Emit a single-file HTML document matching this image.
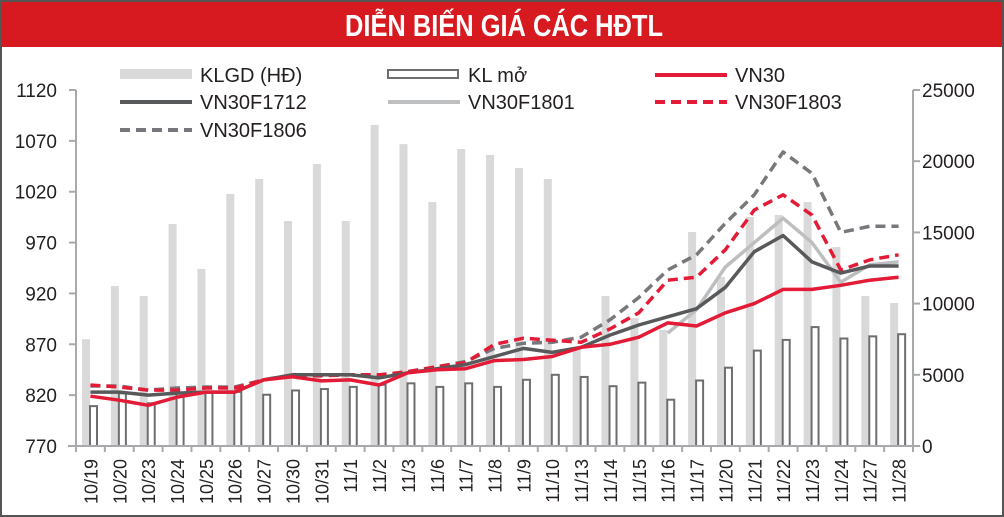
<!DOCTYPE html>
<html><head><meta charset="utf-8"><style>
body{margin:0;background:#fff;}
#wrap{position:relative;width:1004px;height:517px;overflow:hidden;background:#fff;font-family:"Liberation Sans",sans-serif;}
</style></head><body>
<div id="wrap">
<svg id="svg" width="1004" height="517" viewBox="0 0 1004 517">
<rect x="0" y="0" width="1004" height="47" fill="#d71920"/>
<text x="345" y="36" textLength="318" lengthAdjust="spacingAndGlyphs" fill="#fff" font-family="'Liberation Sans Narrow','Liberation Sans',sans-serif" font-weight="bold" font-size="31">DIỄN BIẾN GIÁ CÁC HĐTL</text>
<rect x="1" y="1" width="1002" height="515" fill="none" stroke="#555" stroke-width="2"/>
<g id="bars"></g><g id="lines"></g><g id="axes"></g><g id="legend"></g>
</svg>
</div>
<script>
const categories=["10/19","10/20","10/23","10/24","10/25","10/26","10/27","10/30","10/31","11/1","11/2","11/3","11/6","11/7","11/8","11/9","11/10","11/13","11/14","11/15","11/16","11/17","11/20","11/21","11/22","11/23","11/24","11/27","11/28"];
const klgd=[7500,11240,10530,15590,12430,17700,18750,15800,19800,15800,22540,21200,17130,20860,20440,19520,18750,6900,10530,8990,8150,15030,11870,16080,16220,17130,13970,10530,10040];
const klmo=[2800,3700,3000,3700,3800,3800,3600,3900,4000,4150,4300,4400,4150,4400,4150,4650,5000,4850,4200,4450,3250,4600,5500,6700,7450,8350,7550,7700,7850];
const vn30=[819,815,810,818,823,823,835,838,834,835,830,842,845,846,854,855,858,867,870,877,891,888,901,910,924,924,928,933,936];
const f1712=[823,823,820,822,823,823,835,840,840,840,837,842,846,850,858,866,862,867,879,889,897,905,926,961,977,951,940,947,947];
const f1801=[null,null,null,null,null,null,null,null,null,null,null,null,null,null,null,null,null,null,null,null,881,904,946,970,994,970,931,948,951];
const f1803=[830,828,825,825,827,827,835,839,839,840,840,843,848,852,870,876,874,872,885,901,933,936,963,1002,1017,997,943,953,958];
const f1806=[829,829,825,827,828,828,835,840,840,840,838,843,848,853,866,871,872,877,894,916,943,958,989,1017,1059,1038,980,986,986];
const leftTicks=[770,820,870,920,970,1020,1070,1120];
const rightTicks=[0,5000,10000,15000,20000,25000];

const NS="http://www.w3.org/2000/svg";
const X0=76,X1=913,Y0=446,Y1=90;
const cw=(X1-X0)/categories.length;
const yL=v=>Y0-(v-770)/(1120-770)*(Y0-Y1);
const yR=v=>Y0-v/25000*(Y0-Y1);
const xC=i=>X0+cw*i+cw/2;
function mk(tag,attrs,parent){const e=document.createElementNS(NS,tag);for(const k in attrs)e.setAttribute(k,attrs[k]);parent.appendChild(e);return e;}
const bars=document.getElementById('bars'),lines=document.getElementById('lines'),axes=document.getElementById('axes'),legend=document.getElementById('legend');

categories.forEach((c,i)=>{
  const b=mk('rect',{x:X0+cw*i+6,y:yR(klgd[i]),width:8,height:Y0-yR(klgd[i]),fill:'#d9d9d9'},bars);
  
  
});
categories.forEach((c,i)=>{
  const b=mk('rect',{x:X0+cw*i+14,y:yR(klmo[i]),width:7,height:Y0-yR(klmo[i]),fill:'#fff',stroke:'#6d6e70','stroke-width':2},bars);
  
  
});
function line(arr,color,dash,name){
  let d='';arr.forEach((v,i)=>{if(v==null)return;d+=(d?'L':'M')+xC(i).toFixed(1)+','+yL(v).toFixed(1);});
  const p=mk('path',{d:d,fill:'none',stroke:color,'stroke-width':3.5,'stroke-dasharray':dash||'none','stroke-linejoin':'round'},lines);
  
  
}
line(f1806,'#77787b','10 6','vn30f1806-line');
line(f1803,'#e31b37','10 6','vn30f1803-line');
line(f1801,'#bcbec0',null,'vn30f1801-line');
line(f1712,'#58595b',null,'vn30f1712-line');
line(vn30,'#e31b37',null,'vn30-line');

const axL=mk('line',{x1:X0,y1:Y1,x2:X0,y2:Y0,stroke:'#a7a9ac','stroke-width':2},axes);


const axR=mk('line',{x1:X1,y1:Y1,x2:X1,y2:Y0,stroke:'#a7a9ac','stroke-width':2},axes);


const axB=mk('line',{x1:X0-8,y1:Y0,x2:X1,y2:Y0,stroke:'#a7a9ac','stroke-width':2},axes);


leftTicks.forEach(v=>{
  mk('line',{x1:X0-7,y1:yL(v),x2:X0,y2:yL(v),stroke:'#a7a9ac','stroke-width':2},axes);
  const t=mk('text',{x:57,y:yL(v)+7,'text-anchor':'end','font-size':19,fill:'#231f20'},axes);
  t.textContent=v;
  
  
});
rightTicks.forEach(v=>{
  mk('line',{x1:X1,y1:yR(v),x2:X1+7,y2:yR(v),stroke:'#a7a9ac','stroke-width':2},axes);
  const t=mk('text',{x:922,y:yR(v)+7,'text-anchor':'start','font-size':19,fill:'#231f20'},axes);
  t.textContent=v;
  
  
});
categories.forEach((c,i)=>{
  mk('line',{x1:X0+cw*i,y1:Y0,x2:X0+cw*i,y2:Y0+6,stroke:'#a7a9ac','stroke-width':2},axes);
  const t=mk('text',{x:0,y:0,'text-anchor':'end','font-size':18,fill:'#231f20',transform:'translate('+(xC(i)+7)+',459) rotate(-90)'},axes);
  t.textContent=c;
  
  
});
mk('line',{x1:X1,y1:Y0,x2:X1,y2:Y0+6,stroke:'#a7a9ac','stroke-width':2},axes);

const L=[
 {x:120,y:75,t:'KLGD (HĐ)',k:'fill',c:'#d9d9d9',n:'legend-klgd'},
 {x:388,y:75,t:'KL mở',k:'box',c:'#6d6e70',n:'legend-kl-mo'},
 {x:655,y:75,t:'VN30',k:'line',c:'#e31b37',n:'legend-vn30'},
 {x:120,y:102,t:'VN30F1712',k:'line',c:'#58595b',n:'legend-vn30f1712'},
 {x:388,y:102,t:'VN30F1801',k:'line',c:'#bcbec0',n:'legend-vn30f1801'},
 {x:655,y:102,t:'VN30F1803',k:'dash',c:'#e31b37',n:'legend-vn30f1803'},
 {x:120,y:130,t:'VN30F1806',k:'dash',c:'#77787b',n:'legend-vn30f1806'}
];
L.forEach(e=>{
  const g=mk('g',{},legend);
  
  
  if(e.k==='fill')mk('rect',{x:e.x,y:e.y-6,width:72,height:10,fill:e.c},g);
  else if(e.k==='box')mk('rect',{x:e.x,y:e.y-5,width:70,height:8,fill:'#fff',stroke:e.c,'stroke-width':2},g);
  else mk('line',{x1:e.x,y1:e.y,x2:e.x+72,y2:e.y,stroke:e.c,'stroke-width':4,'stroke-dasharray':e.k==='dash'?'10 6':'none'},g);
  const t=mk('text',{x:e.x+80,y:e.y+7,'font-size':20,fill:'#231f20'},g);
  t.textContent=e.t;
});
</script>
</body></html>
